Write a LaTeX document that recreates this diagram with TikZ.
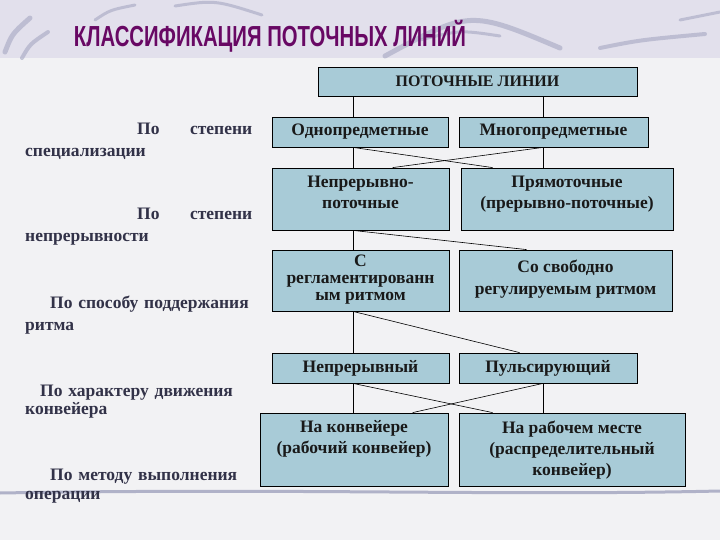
\documentclass[tikz,border=0pt]{standalone}
\usepackage{fontspec}
\setmainfont{Liberation Serif}
\newfontfamily\titlefont[FakeStretch=0.7]{Liberation Sans}
\usetikzlibrary{calc}

\definecolor{boxblue}{RGB}{168,203,215}
\definecolor{titlepurple}{RGB}{104,8,100}
\definecolor{labelgray}{RGB}{50,50,72}
\definecolor{bandlilac}{RGB}{226,224,236}
\definecolor{paper}{RGB}{242,242,244}
\definecolor{swash}{RGB}{160,162,190}

\tikzset{
  box/.style={draw=black, line width=0.8pt, fill=boxblue, inner sep=0pt},
  boxtext/.style={font=\bfseries\fontsize{17.5}{21}\selectfont, text=black!90, align=center, inner sep=0pt},
  crit/.style={font=\bfseries\fontsize{17.5}{22}\selectfont, text=labelgray, align=left,
    text width=227pt, inner sep=0pt, anchor=north west},
  link/.style={line width=0.6pt},
  brush/.style={draw=swash, line cap=round, opacity=0.55},
}

\begin{document}
\begin{tikzpicture}[x=1pt, y=-1pt]

% Фон
\fill[paper] (0,0) rectangle (720,540);
\fill[bandlilac] (0,0) rectangle (720,58);
\useasboundingbox (0,0) rectangle (720,540);

\foreach \a/\b/\c/\w in {
{5,52}/{12,34}/{30,18}/5pt,
{22,58}/{30,44}/{48,32}/4pt,
{95,20}/{110,10}/{135,5}/3pt,
{175,6}/{215,0}/{262,15}/3pt,
{385,56}/{470,10}/{560,48}/5pt,
{420,40}/{460,30}/{500,36}/3pt,
{600,48}/{640,40}/{705,34}/4pt,
{680,20}/{700,16}/{720,12}/3pt
}
{
\draw[brush, line width=\w] (\a) .. controls (\b) .. (\c);
}
\draw[brush, line width=3pt, opacity=0.8] (0,493) .. controls (300,488) and (500,496) .. (720,491);

% Заголовок
\node[font=\titlefont\bfseries\fontsize{29}{32}\selectfont, text=titlepurple] (title) at (270,36)
{КЛАССИФИКАЦИЯ ПОТОЧНЫХ ЛИНИЙ};

% Признаки
\node[crit] (c1) at (25,123) {\hspace*{112pt}По\hfill степени\\специализации};
\node[crit] (c2) at (25,208) {\hspace*{112pt}По\hfill степени\\непрерывности};
\node[crit] (c3) at (25,296) {\hspace*{25pt}По способу поддержания\\ритма};
\node[crit, font=\bfseries\fontsize{17.5}{18}\selectfont] (c4) at (25,385)
{\hspace*{15pt}По характеру движения\\конвейера};
\node[crit, font=\bfseries\fontsize{17.5}{19}\selectfont] (c5) at (25,469)
{\hspace*{25pt}По методу выполнения\\операции};

% Блоки
\node[box, minimum width=319pt, minimum height=29pt] (lines) at (477.5,81.5) {};
\node[boxtext, font=\bfseries\fontsize{16}{18}\selectfont] (linest) at (lines) {ПОТОЧНЫЕ ЛИНИИ};

\node[box, minimum width=176pt, minimum height=30pt] (odno) at (360,132) {};
\node[boxtext] (odnot) at (odno) {Однопредметные};
\node[box, minimum width=189pt, minimum height=30pt] (mnogo) at (553.5,132) {};
\node[boxtext] (mnogot) at (mnogo) {Многопредметные};

\node[box, minimum width=177pt, minimum height=62pt] (nepp) at (360.5,199) {};
\node[boxtext, anchor=north] (neppt) at ($(nepp.north)+(0,8)$) {Непрерывно-\\поточные};
\node[box, minimum width=212pt, minimum height=62pt] (pryam) at (567,199) {};
\node[boxtext, anchor=north] (pryamt) at ($(pryam.north)+(0,8)$) {Прямоточные\\(прерывно-поточные)};

\node[box, minimum width=177pt, minimum height=61pt] (regl) at (360.5,280.5) {};
\node[boxtext, font=\bfseries\fontsize{17.5}{17}\selectfont, anchor=north] (reglt)
at ($(regl.north)+(0,5)$) {С\\регламентированн\\ым ритмом};
\node[box, minimum width=213pt, minimum height=61pt] (svob) at (565.5,280.5) {};
\node[boxtext, font=\bfseries\fontsize{17.5}{22}\selectfont, anchor=north] (svobt)
at ($(svob.north)+(0,10)$) {Со свободно\\регулируемым ритмом};

\node[box, minimum width=177pt, minimum height=30pt] (nepr) at (360.5,368) {};
\node[boxtext] (neprt) at (nepr) {Непрерывный};
\node[box, minimum width=178pt, minimum height=30pt] (puls) at (548,368) {};
\node[boxtext] (pulst) at (puls) {Пульсирующий};

\node[box, minimum width=188pt, minimum height=73pt] (konv) at (354,449.5) {};
\node[boxtext, anchor=north] (konvt) at ($(konv.north)+(0,8)$) {На конвейере\\(рабочий конвейер)};
\node[box, minimum width=226pt, minimum height=73pt] (rab) at (572,449.5) {};
\node[boxtext, anchor=north] (rabt) at ($(rab.north)+(0,8)$)
{На рабочем месте\\(распределительный\\конвейер)};

% Связи
\coordinate (xl) at (353,0);
\coordinate (xr) at (543,0);

\draw[link] (lines.south -| xl) -- (odno.north -| xl);
\draw[link] (lines.south -| xr) -- (mnogo.north -| xr);

\draw[link] (odno.south -| xl) -- (nepp.north -| xl);
\draw[link] (mnogo.south -| xr) -- (pryam.north -| xr);
\draw[link] (odno.south -| xl) -- ($(pryam.north west)+(32,0)$);
\draw[link] (mnogo.south -| xr) -- ($(nepp.north west)+(121,0)$);

\draw[link] (nepp.south -| xl) -- (regl.north -| xl);
\draw[link] (nepp.south -| xl) -- ($(svob.north west)+(68,0)$);

\draw[link] (regl.south -| xl) -- (nepr.north -| xl);
\draw[link] (regl.south -| xl) -- ($(puls.north west)+(61,0)$);

\draw[link] (nepr.south -| xl) -- (konv.north -| xl);
\draw[link] (puls.south -| xr) -- (rab.north -| xr);
\draw[link] (nepr.south -| xl) -- ($(rab.north west)+(34,0)$);
\draw[link] (puls.south -| xr) -- ($(konv.north west)+(153,0)$);

\end{tikzpicture}
\end{document}
